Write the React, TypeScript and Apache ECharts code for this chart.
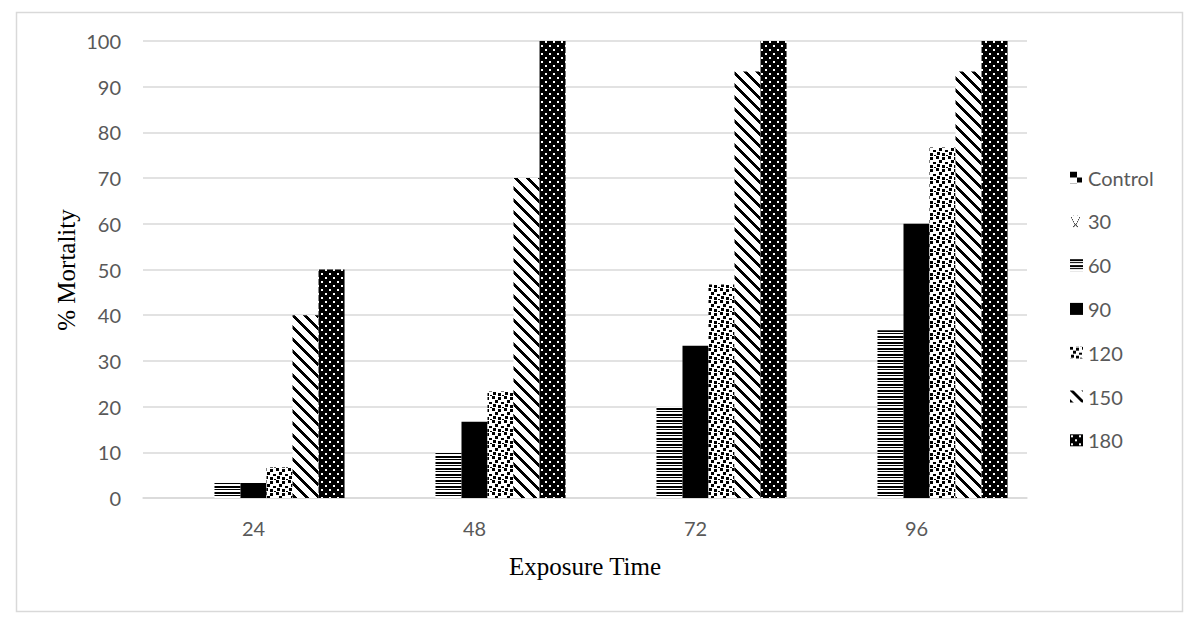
import React, { useEffect, useRef } from 'react';
import * as echarts from 'echarts';

const categories = ['24', '48', '72', '96'];
const seriesNames = ['Control', '30', '60', '90', '120', '150', '180'];
const controlValues = [0, 0, 0, 0];
const c30Values = [0, 0, 0, 0];
const c60Values = [3.3, 10, 20, 36.7];
const c90Values = [3.3, 16.7, 33.3, 60];
const c120Values = [6.7, 23.3, 46.7, 76.7];
const c150Values = [40, 70, 93.3, 93.3];
const c180Values = [50, 100, 100, 100];
const yMin = 0;
const yMax = 100;
const yInterval = 10;

function makeTile(w: number, h: number, bg: string, draw: (ctx: CanvasRenderingContext2D) => void) {
  const c = document.createElement('canvas');
  c.width = w;
  c.height = h;
  const ctx = c.getContext('2d') as CanvasRenderingContext2D;
  ctx.fillStyle = bg;
  ctx.fillRect(0, 0, w, h);
  draw(ctx);
  return { image: c.toDataURL(), imageWidth: w, imageHeight: h, repeat: 'repeat' };
}

function buildPatterns() {
  const control = makeTile(14, 12, '#ffffff', (ctx) => {
    ctx.fillStyle = '#000';
    ctx.fillRect(0, 0, 7, 6);
    ctx.fillRect(7, 6, 5, 5);
  });
  const p30 = makeTile(12, 12, '#ffffff', (ctx) => {
    ctx.fillStyle = '#000';
    const pts = [[1, 2], [2, 4], [3, 6], [4, 8], [5, 9], [6, 8], [7, 6], [8, 4], [9, 2], [4, 10], [6, 10], [3, 11], [7, 11]];
    pts.forEach(([x, y]) => ctx.fillRect(x, y, 1, 1));
  });
  const p60 = makeTile(6, 6, '#ffffff', (ctx) => {
    ctx.fillStyle = '#000';
    ctx.fillRect(0, 0, 6, 2);
    ctx.fillRect(0, 3, 6, 1);
  });
  const p90 = '#000000';
  const p120 = makeTile(12, 12, '#ffffff', (ctx) => {
    ctx.fillStyle = '#000';
    const sq = [[0, 0, 3, 3], [6, 1, 3, 3], [3, 4, 3, 3], [9, 6, 3, 2], [1, 8, 3, 3], [6, 9, 3, 3], [10, 11, 2, 1]];
    sq.forEach(([x, y, w, h]) => ctx.fillRect(x, y, w, h));
  });
  const p150 = makeTile(12, 12, '#ffffff', (ctx) => {
    ctx.fillStyle = '#000';
    for (let y = 0; y < 12; y++) {
      for (let x = 0; x < 12; x++) {
        if ((((x - y) % 12) + 12) % 12 < 4) ctx.fillRect(x, y, 1, 1);
      }
    }
  });
  const p180 = makeTile(8, 8, '#000000', (ctx) => {
    ctx.fillStyle = '#fff';
    ctx.fillRect(1, 1, 2, 2);
    ctx.fillRect(5, 5, 2, 2);
  });
  return [control, p30, p60, p90, p120, p150, p180];
}

export default function App() {
  const ref = useRef<HTMLDivElement>(null);
  useEffect(() => {
    if (!ref.current) return;
    const chart = echarts.init(ref.current, null, { renderer: 'svg' });
    const patterns = buildPatterns();
    const values = [controlValues, c30Values, c60Values, c90Values, c120Values, c150Values, c180Values];
    const font = 'Lato, "Noto Sans", sans-serif';
    chart.setOption({
      animation: false,
      backgroundColor: '#ffffff',
      grid: { left: 143, right: 171, top: 41, bottom: 122 },
      xAxis: {
        type: 'category',
        data: categories,
        axisLine: { lineStyle: { color: '#d9d9d9', width: 1.5 } },
        axisTick: { show: false },
        axisLabel: { color: '#595959', fontSize: 20, fontFamily: font, margin: 20 },
      },
      yAxis: {
        type: 'value',
        min: yMin,
        max: yMax,
        interval: yInterval,
        axisLine: { show: false },
        axisTick: { show: false },
        splitLine: { lineStyle: { color: '#d9d9d9', width: 1.5 } },
        axisLabel: { color: '#595959', fontSize: 20, fontFamily: font, margin: 22 },
      },
      legend: {
        orient: 'vertical',
        left: 1065,
        top: 162,
        itemWidth: 13,
        itemHeight: 12,
        itemGap: 22.8,
        icon: 'rect',
        textStyle: { color: '#595959', fontSize: 20, fontFamily: font, lineHeight: 21 },
        data: seriesNames,
      },
      graphic: [
        {
          type: 'rect',
          shape: { x: 16.5, y: 12.5, width: 1166, height: 599 },
          style: { fill: 'none', stroke: '#d9d9d9', lineWidth: 1.5 },
          silent: true,
        },
        {
          type: 'text',
          x: 66,
          y: 270,
          rotation: Math.PI / 2,
          style: {
            text: '% Mortality',
            fill: '#000',
            fontSize: 25,
            fontFamily: '"Liberation Serif", "Times New Roman", serif',
            align: 'center',
            verticalAlign: 'middle',
          },
        },
        {
          type: 'text',
          x: 585,
          y: 566,
          style: {
            text: 'Exposure Time',
            fill: '#000',
            fontSize: 25,
            fontFamily: '"Liberation Serif", "Times New Roman", serif',
            align: 'center',
            verticalAlign: 'middle',
          },
        },
      ],
      series: seriesNames.map((name, i) => ({
        name,
        type: 'bar',
        data: values[i],
        barGap: '0%',
        barCategoryGap: '17.6%',
        itemStyle: { color: patterns[i] },
      })),
    });
    return () => chart.dispose();
  }, []);
  return (
    <div
      ref={ref}
      style={{ position: 'fixed', left: 0, top: 0, width: 1198, height: 620, background: '#fff' }}
    />
  );
}
